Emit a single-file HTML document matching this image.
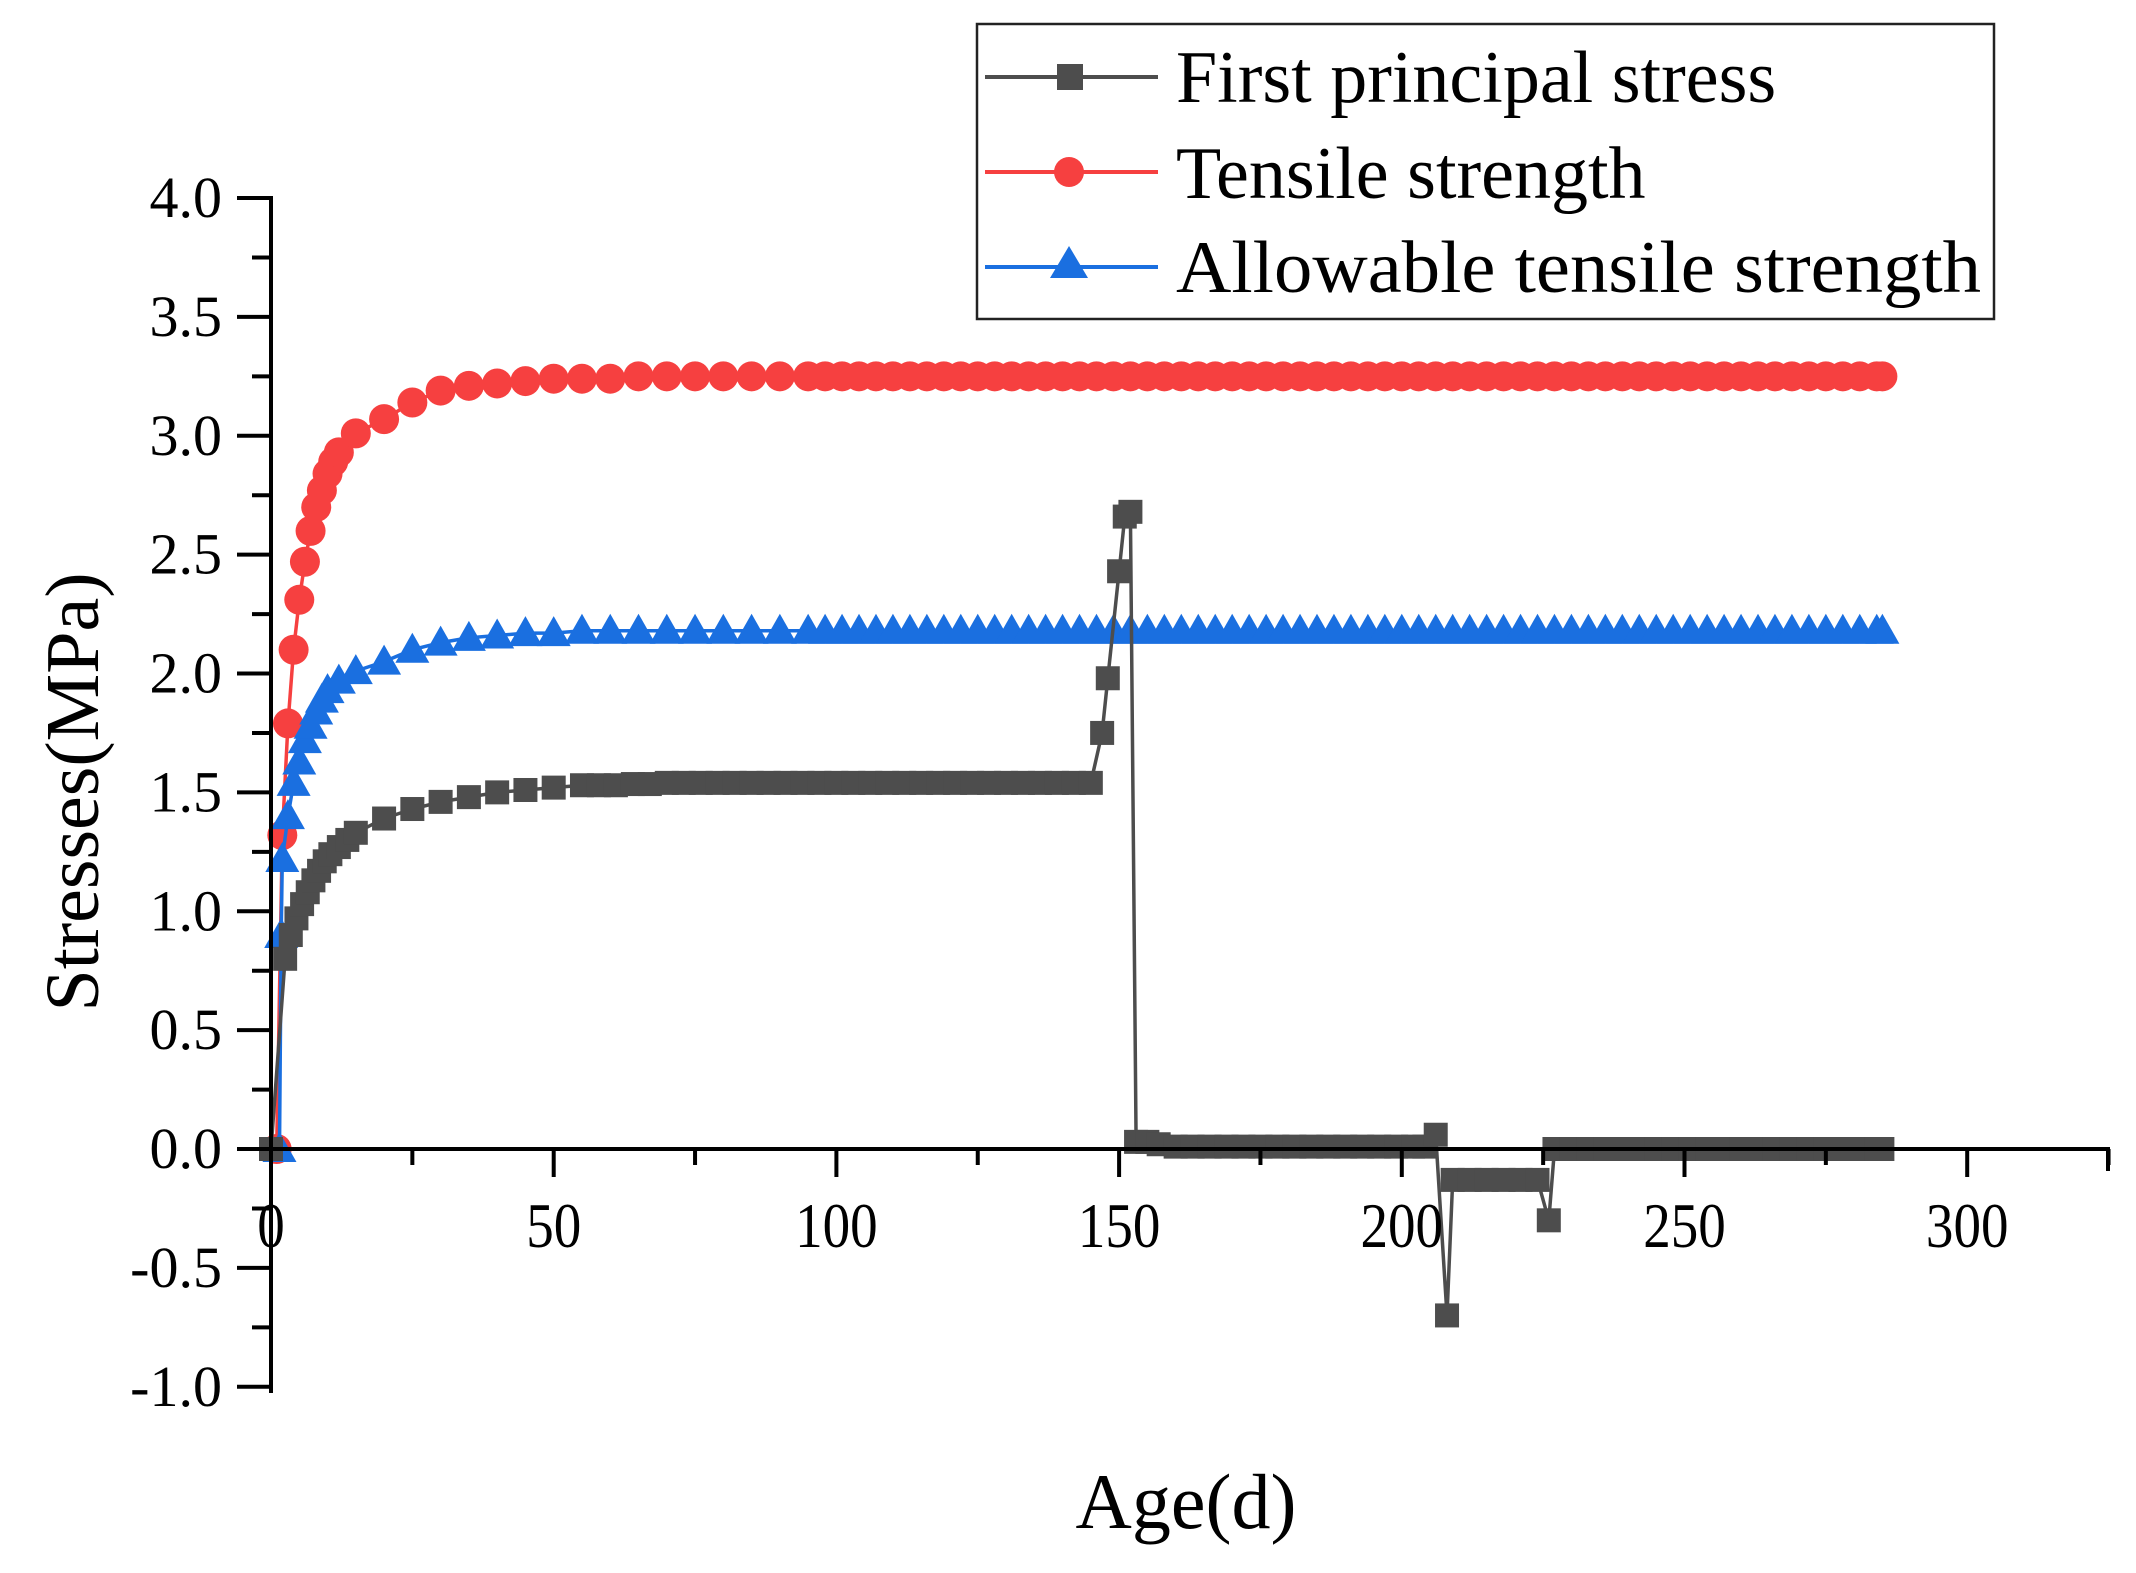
<!DOCTYPE html>
<html><head><meta charset="utf-8"><style>
html,body{margin:0;padding:0;background:#fff;}
svg{display:block;font-family:"Liberation Serif",serif;}
</style></head><body>
<svg id="chart" width="2136" height="1573" viewBox="0 0 2136 1573" xmlns="http://www.w3.org/2000/svg">
<rect width="2136" height="1573" fill="#fff"/>
<g id="plot"></g>
<g id="axes"></g>
<text x="0" y="0" font-size="76" text-anchor="middle" transform="translate(98,792) rotate(-90)">Stresses(MPa)</text>
<text x="1186" y="1528" font-size="78" text-anchor="middle">Age(d)</text>
<g>
<rect x="977" y="24" width="1017" height="295" fill="#fff" stroke="#222" stroke-width="2.5"/>
<g>
<line x1="985" y1="77" x2="1158" y2="77" stroke="#4d4d4d" stroke-width="4"/>
<rect x="1057" y="64" width="26" height="26" fill="#4d4d4d"/>
<text x="1176" y="102" font-size="74">First principal stress</text></g>
<g>
<line x1="985" y1="172" x2="1158" y2="172" stroke="#f64040" stroke-width="4"/>
<circle cx="1069" cy="172" r="15" fill="#f64040"/>
<text x="1176" y="198" font-size="74">Tensile strength</text></g>
<g>
<line x1="985" y1="267" x2="1158" y2="267" stroke="#1a6fe0" stroke-width="4"/>
<polygon points="1069,246 1088,278 1050,278" fill="#1a6fe0"/>
<text x="1176" y="292" font-size="74" textLength="805" lengthAdjust="spacingAndGlyphs">Allowable tensile strength</text></g>
</g>
</svg>
<script>
const xTicks = [0,50,100,150,200,250,300];
const yTicks = [-1.0,-0.5,0.0,0.5,1.0,1.5,2.0,2.5,3.0,3.5,4.0];
const yTickLabels = ["-1.0","-0.5","0.0","0.5","1.0","1.5","2.0","2.5","3.0","3.5","4.0"];

const firstX = [0,2.5,3.5,4.5,5.5,6.5,7.5,8.5,9.5,10.5,12,13.5,15,20,25,30,35,40,45,50,55,
58,61,64,67,70,73,76,79,82,85,88,91,94,97,100,103,106,109,112,115,118,121,124,127,130,133,136,139,142,145,
147,148,150,151,152,153,155,157,
160,163,166,169,172,175,178,181,184,187,190,193,196,199,202,204,
206,208,209,212,215,218,221,224,226,
227,230,233,236,239,242,245,248,251,254,257,260,263,266,269,272,275,278,281,284,285];
const firstY = [0,0.8,0.9,0.97,1.03,1.08,1.13,1.17,1.21,1.24,1.27,1.3,1.33,1.39,1.43,1.46,1.48,1.5,1.51,1.52,1.53,
1.53,1.53,1.535,1.535,1.54,1.54,1.54,1.54,1.54,1.54,1.54,1.54,1.54,1.54,1.54,1.54,1.54,1.54,1.54,1.54,1.54,1.54,1.54,1.54,1.54,1.54,1.54,1.54,1.54,1.54,
1.75,1.98,2.43,2.66,2.68,0.03,0.03,0.02,
0.01,0.01,0.01,0.01,0.01,0.01,0.01,0.01,0.01,0.01,0.01,0.01,0.01,0.01,0.01,0.01,
0.06,-0.7,-0.13,-0.13,-0.13,-0.13,-0.13,-0.13,-0.3,
0,0,0,0,0,0,0,0,0,0,0,0,0,0,0,0,0,0,0,0,0];

const tensileX = [1,2,3,4,5,6,7,8,9,10,11,12,15,20,25,30,35,40,45,50,55,60,65,70,75,80,85,90,95,
98,101,104,107,110,113,116,119,122,125,128,131,134,137,140,143,146,149,152,155,158,161,164,167,170,173,176,179,182,185,188,191,194,197,200,203,206,209,212,215,218,221,224,227,230,233,236,239,242,245,248,251,254,257,260,263,266,269,272,275,278,281,284,285];
const tensileY = [0,1.32,1.79,2.1,2.31,2.47,2.6,2.7,2.77,2.84,2.89,2.93,3.01,3.07,3.14,3.19,3.21,3.22,3.23,3.24,3.24,3.24,3.25,3.25,3.25,3.25,3.25,3.25,3.25,
3.25,3.25,3.25,3.25,3.25,3.25,3.25,3.25,
3.25,3.25,3.25,3.25,3.25,3.25,3.25,3.25,
3.25,3.25,3.25,3.25,3.25,3.25,3.25,3.25,
3.25,3.25,3.25,3.25,3.25,3.25,3.25,3.25,
3.25,3.25,3.25,3.25,3.25,3.25,3.25,3.25,
3.25,3.25,3.25,3.25,3.25,3.25,3.25,3.25,
3.25,3.25,3.25,3.25,3.25,3.25,3.25,3.25,
3.25,3.25,3.25,3.25,3.25,3.25,3.25,3.25];

const allowX = [1.5,1.8,2,3,4,5,6,7,8,9,10,12,15,20,25,30,35,40,45,50,55,60,65,70,75,80,85,90,95,
98,101,104,107,110,113,116,119,122,125,128,131,134,137,140,143,146,149,152,155,158,161,164,167,170,173,176,179,182,185,188,191,194,197,200,203,206,209,212,215,218,221,224,227,230,233,236,239,242,245,248,251,254,257,260,263,266,269,272,275,278,281,284,285];
const allowY = [0,0.9,1.22,1.4,1.54,1.63,1.72,1.78,1.84,1.89,1.93,1.97,2.01,2.05,2.1,2.13,2.15,2.16,2.17,2.17,2.18,2.18,2.18,2.18,2.18,2.18,2.18,2.18,2.18,
2.18,2.18,2.18,2.18,2.18,2.18,2.18,2.18,
2.18,2.18,2.18,2.18,2.18,2.18,2.18,2.18,
2.18,2.18,2.18,2.18,2.18,2.18,2.18,2.18,
2.18,2.18,2.18,2.18,2.18,2.18,2.18,2.18,
2.18,2.18,2.18,2.18,2.18,2.18,2.18,2.18,
2.18,2.18,2.18,2.18,2.18,2.18,2.18,2.18,
2.18,2.18,2.18,2.18,2.18,2.18,2.18,2.18,
2.18,2.18,2.18,2.18,2.18,2.18,2.18,2.18];

const NS = "http://www.w3.org/2000/svg";
function sx(v){ return 271 + v * 5.654; }
function sy(v){ return 1149 - v * 237.75; }
function mk(tag, attrs, parent){
  const e = document.createElementNS(NS, tag);
  for (const k in attrs) e.setAttribute(k, attrs[k]);
  parent.appendChild(e);
  return e;
}
const plot = document.getElementById('plot');
const axes = document.getElementById('axes');

let ax = mk('line', {x1:271, y1:196, x2:271, y2:1393, stroke:'#000', 'stroke-width':4}, axes);


let bx = mk('line', {x1:237, y1:sy(0), x2:2110, y2:sy(0), stroke:'#000', 'stroke-width':4}, axes);


mk('line', {x1:2108, y1:sy(0), x2:2108, y2:sy(0)+22, stroke:'#000', 'stroke-width':4}, axes);

for (let i = 0; i < yTicks.length; i++) {
  const y = sy(yTicks[i]);
  mk('line', {x1:237, y1:y, x2:271, y2:y, stroke:'#000', 'stroke-width':4}, axes);
  const t = mk('text', {x:222, y:y+19, 'font-size':58, 'text-anchor':'end'}, axes);
  t.textContent = yTickLabels[i];
  
  
  if (i < yTicks.length - 1) {
    const ym = sy(yTicks[i] + 0.25);
    mk('line', {x1:252, y1:ym, x2:271, y2:ym, stroke:'#000', 'stroke-width':4}, axes);
  }
}
for (let i = 0; i < xTicks.length; i++) {
  const x = sx(xTicks[i]);
  if (i > 0) mk('line', {x1:x, y1:sy(0), x2:x, y2:sy(0)+28, stroke:'#000', 'stroke-width':4}, axes);
  const mx = sx(xTicks[i] + 25);
  mk('line', {x1:mx, y1:sy(0), x2:mx, y2:sy(0)+16, stroke:'#000', 'stroke-width':4}, axes);
  const t = mk('text', {x:0, y:0, 'font-size':64, 'text-anchor':'middle', transform:'translate(' + x + ',1247) scale(0.86,1)'}, axes);
  t.textContent = String(xTicks[i]);
  
  
}

function series(xs, ys, color, name, marker){
  const g = mk('g', {}, plot);
  
  
  let d = '';
  for (let i = 0; i < xs.length; i++) d += (i ? 'L' : 'M') + sx(xs[i]).toFixed(1) + ',' + sy(ys[i]).toFixed(1);
  mk('path', {d:d, fill:'none', stroke:color, 'stroke-width':3.5}, g);
  for (let i = 0; i < xs.length; i++) {
    const x = sx(xs[i]), y = sy(ys[i]);
    let m;
    if (marker === 'square') m = mk('rect', {x:x-12, y:y-12, width:24, height:24, fill:color}, g);
    else if (marker === 'circle') m = mk('ellipse', {cx:x, cy:y, rx:15, ry:15, fill:color}, g);
    else m = mk('polygon', {points:(x)+','+(y-17)+' '+(x+17)+','+(y+13)+' '+(x-17)+','+(y+13), fill:color}, g);
    
    
  }
}
series(tensileX, tensileY, '#f64040', 'tensile-strength-series', 'circle');
series(allowX, allowY, '#1a6fe0', 'allowable-tensile-strength-series', 'triangle');
series(firstX, firstY, '#4d4d4d', 'first-principal-stress-series', 'square');
</script>
</body></html>
